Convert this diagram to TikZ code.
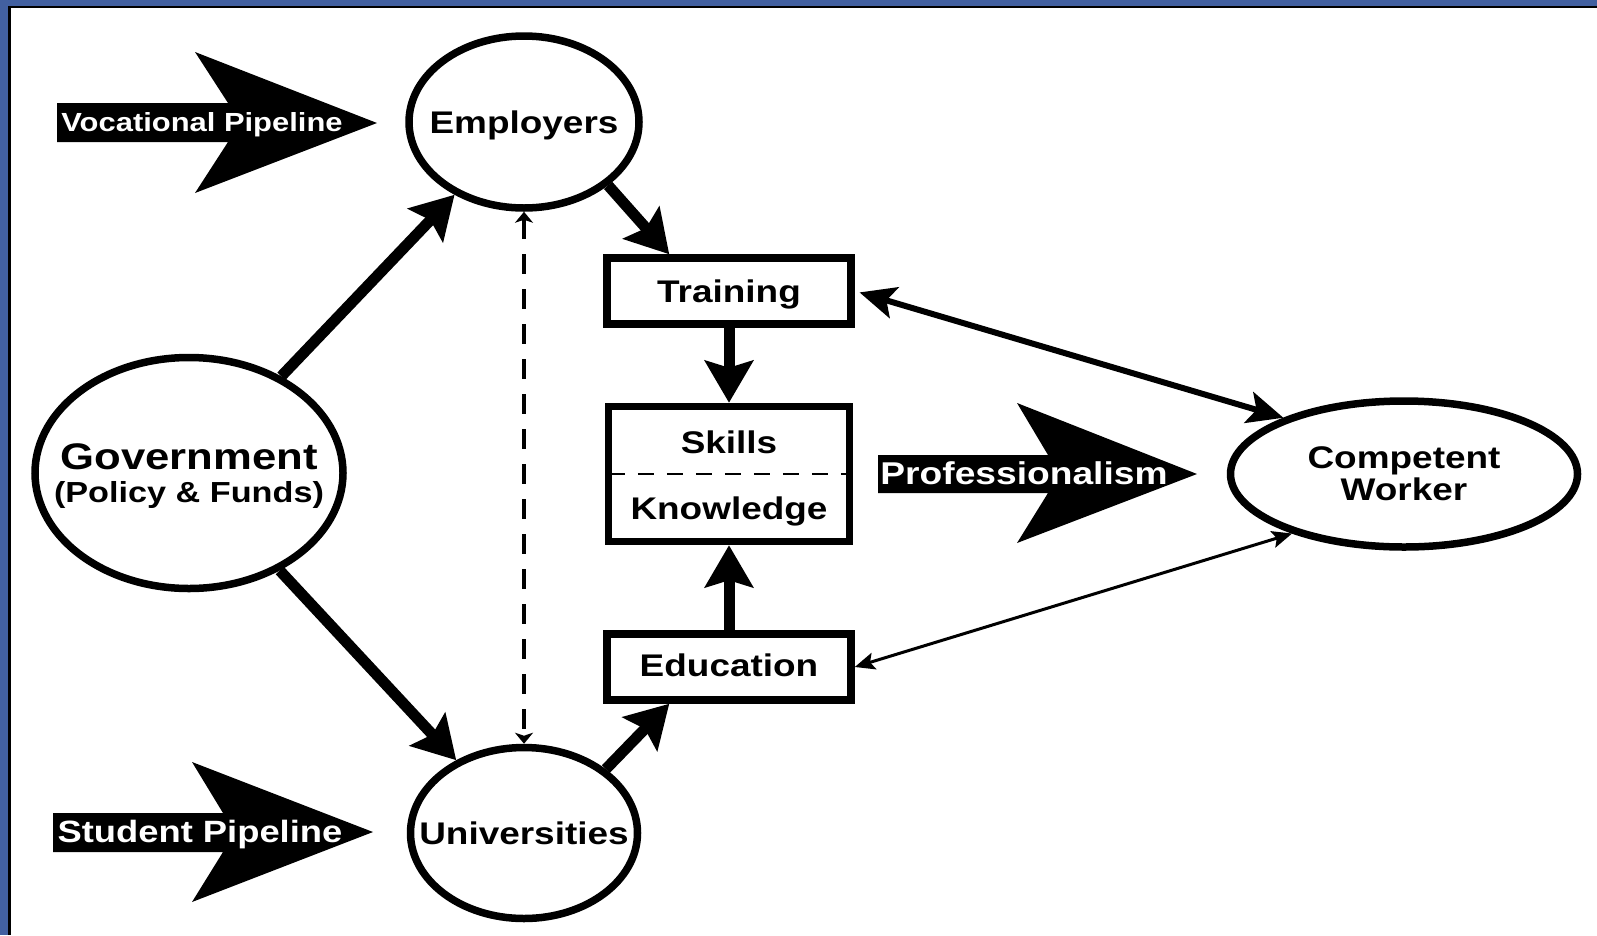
\documentclass[tikz,border=0pt]{standalone}
\usepackage{fontspec}
\setmainfont{Liberation Sans}[FakeStretch=1.18]
\usetikzlibrary{arrows.meta,shapes.geometric}
\definecolor{modra}{RGB}{66,96,160}

\begin{document}
\begin{tikzpicture}[x=1pt, y=-1pt,
    kolo/.style={ellipse, draw, line width=7.5pt},
    ramecek/.style={rectangle, draw, line width=7.5pt, inner sep=0pt, minimum width=244pt, minimum height=66pt},
    txt/.style={font=\bfseries\fontsize{31.3}{32}\selectfont, align=center},
    bila/.style={text=white, inner sep=0pt, font=\bfseries\fontsize{#1}{#1}\selectfont},
    tlusta/.style={line width=11pt, -{Stealth[length=42pt,width=48pt,inset=7pt]}},
    stredni/.style={line width=6pt, {Stealth[length=36pt,width=32pt,inset=8pt]}-{Stealth[length=36pt,width=32pt,inset=8pt]}},
    tenka/.style={line width=3pt, {Stealth[length=20pt,width=17pt,inset=4pt]}-{Stealth[length=20pt,width=17pt,inset=4pt]}}]
\useasboundingbox (0,0) rectangle (1597,935);

% Modry okraj
\fill[modra] (0,0) rectangle (1597,6);
\fill[modra] (0,0) rectangle (9,935);
\draw[line width=2.5pt] (9.5,935) -- (9.5,7) -- (1597,7);

% Uzly
\node[kolo, minimum width=308pt, minimum height=231pt] (gov) at (189,473) {};
\node[txt, font=\bfseries\fontsize{37}{33.5}\selectfont] (govT) at ([yshift=-3pt]gov) {Government\\{\fontsize{29}{33.5}\selectfont (Policy \& Funds)}};
\node[kolo, minimum width=230pt, minimum height=172pt] (emp) at (524,122) {};
\node[txt] (empT) at ([yshift=-3pt]emp) {Employers};
\node[kolo, minimum width=227pt, minimum height=171pt] (uni) at (524,833) {};
\node[txt] (uniT) at (uni) {Universities};
\node[kolo, minimum width=347pt, minimum height=146pt] (cw) at (1404,474) {};
\node[txt] (cwT) at (cw) {Competent\\Worker};

\node[ramecek, txt, text height=25pt, text depth=3pt] (train) at (729,291) {Training};
\node[ramecek, txt, text height=22.4pt, text depth=4pt] (edu) at (729,667) {Education};
\node[ramecek, minimum width=241pt, minimum height=135pt] (sk) at (729,474) {};
\node[txt, anchor=base] (skl) at (729,453) {Skills};
\node[txt, anchor=base] (knw) at (729,519) {Knowledge};
\draw[line width=2pt, dash pattern=on 16pt off 13pt, shorten <=4pt, shorten >=4pt] (sk.west) -- (sk.east);

% Sipky
\draw[tlusta] (gov) -- (emp);
\draw[tlusta] (gov) -- (uni);
\draw[tlusta] (emp.-37) -- ([xshift=66pt]train.north west);
\draw[tlusta] (uni.38) -- ([xshift=66pt]edu.south west);
\draw[tlusta] (train) -- (sk);
\draw[tlusta] (edu) -- (sk);
\draw[stredni, shorten <=5pt] (train.east) -- (cw.155);
\draw[tenka] (edu.east) -- (cw.-152);
\draw[line width=3.5pt, dash pattern=on 20pt off 15pt, {Stealth[length=11pt,width=18pt,inset=3pt]}-{Stealth[length=11pt,width=18pt,inset=3pt]}] (emp) -- (uni);

% Velke sipky s popisem
\fill (57,103) -- (228,103) -- (195,52) -- (377,123) -- (195,193) -- (228,142) -- (57,142) -- cycle;
\node[bila=26.2] (voc) at (202,125) {Vocational Pipeline};
\fill (53,813) -- (223,813) -- (192,762) -- (373,832) -- (192,902) -- (223,852) -- (53,852) -- cycle;
\node[bila=30.8] (stud) at (200,835) {Student Pipeline};
\fill (878,455) -- (1048,455) -- (1017,403) -- (1197,474) -- (1017,543) -- (1048,493) -- (878,493) -- cycle;
\node[bila=31.5] (prof) at (1024,473) {Professionalism};
\end{tikzpicture}
\end{document}
